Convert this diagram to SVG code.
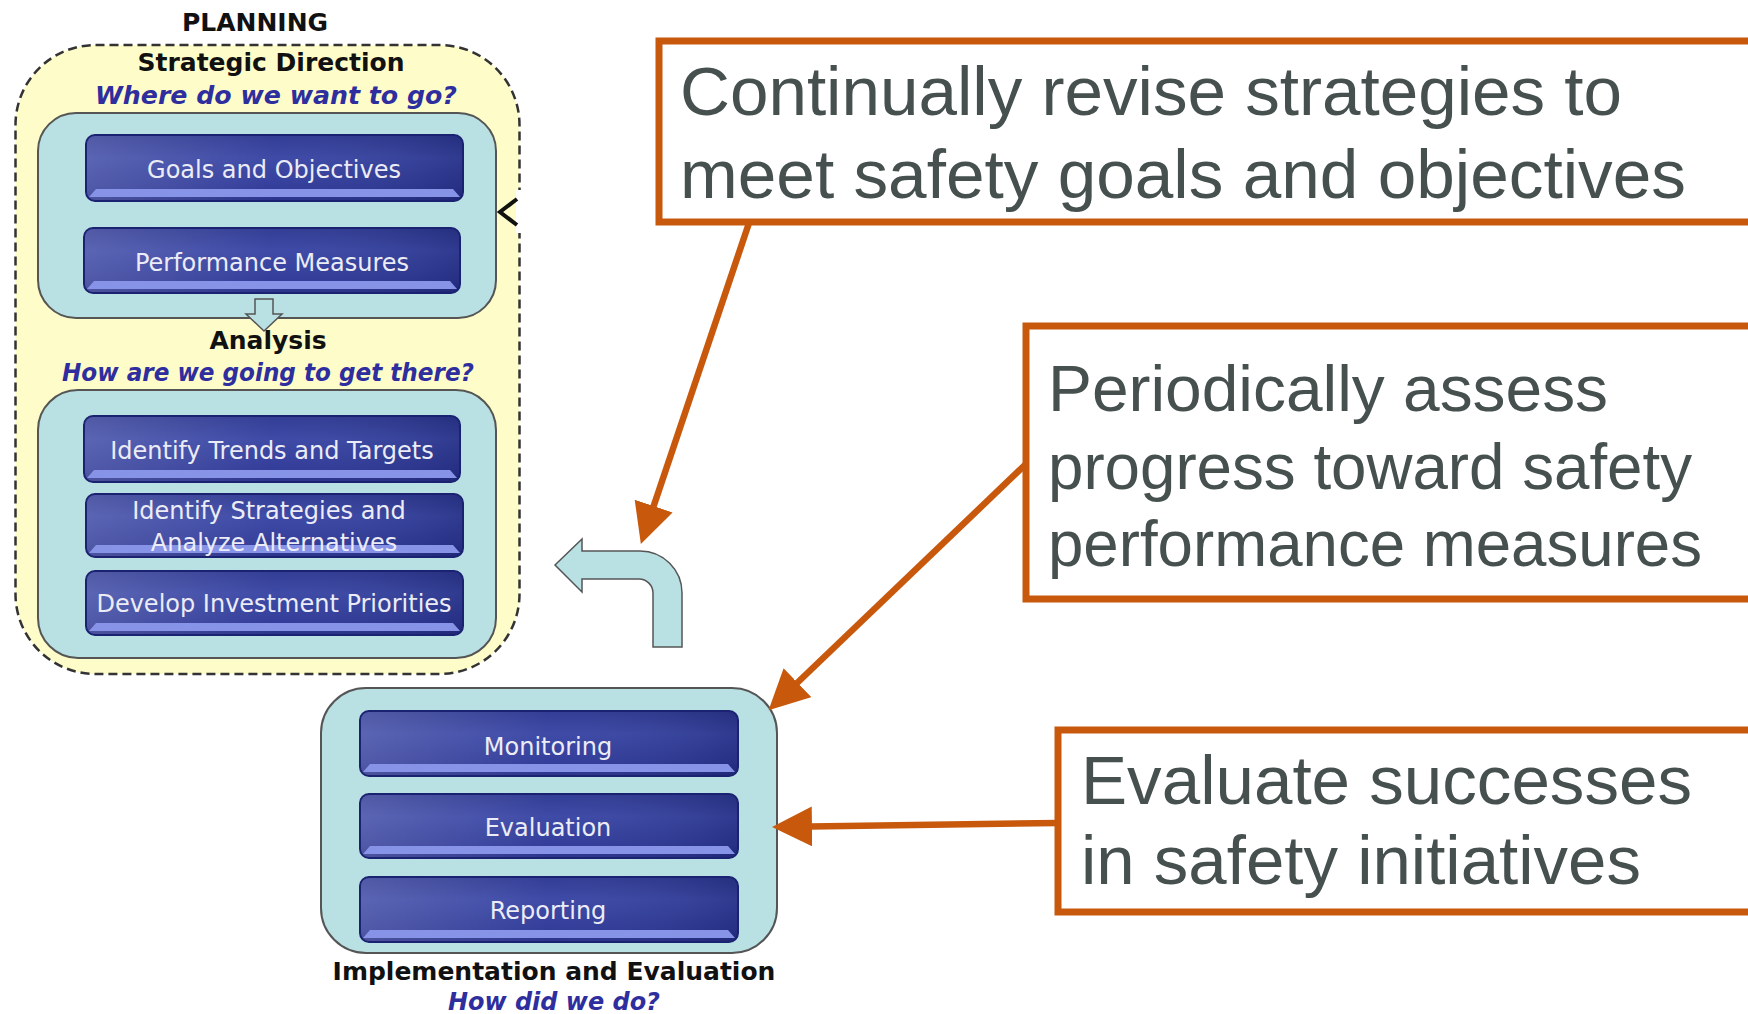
<svg xmlns="http://www.w3.org/2000/svg" width="1748" height="1014" viewBox="0 0 1748 1014">
<defs>
<linearGradient id="btnV" x1="0" y1="0" x2="0" y2="1">
<stop offset="0" stop-color="#2a3590"/>
<stop offset="0.35" stop-color="#3643a3"/>
<stop offset="0.8" stop-color="#2b3696"/>
<stop offset="1" stop-color="#222c85"/>
</linearGradient>
<linearGradient id="btnH" x1="0" y1="0" x2="1" y2="0">
<stop offset="0" stop-color="#ffffff" stop-opacity="0.18"/>
<stop offset="0.5" stop-color="#ffffff" stop-opacity="0.04"/>
<stop offset="1" stop-color="#000000" stop-opacity="0.12"/>
</linearGradient>
<marker id="ah" markerUnits="userSpaceOnUse" markerWidth="42" markerHeight="40" refX="2" refY="20" orient="auto" viewBox="0 0 42 40">
<path d="M0,0 L40,20 L0,40 Z" fill="#c8590c"/>
</marker>
<style>
.outer{fill:#fefdc9;stroke:#333;stroke-width:2.5;stroke-dasharray:9 5}
.teal{fill:#b9e1e3;stroke:#555;stroke-width:2}
.btn{fill:url(#btnV);stroke:#1b2272;stroke-width:2}
.gloss{fill:url(#btnH)}
.bevel{fill:#8693e6}
.bt{font-family:"DejaVu Sans",Verdana,sans-serif;font-size:24px;fill:#ececf6;text-anchor:middle}
.hd{font-family:"DejaVu Sans",Verdana,sans-serif;font-size:25px;font-weight:bold;fill:#111;text-anchor:middle}
.q{font-family:"DejaVu Sans",Verdana,sans-serif;font-size:25px;font-weight:bold;font-style:italic;fill:#2e2e9e;text-anchor:middle}
.ob{fill:#fff;stroke:#c8590c;stroke-width:7}
.ot{font-family:"Liberation Sans",Arial,sans-serif;fill:#46504f}
.con{stroke:#c8590c;stroke-width:6.5;fill:none;marker-end:url(#ah)}
</style>
</defs>
<rect width="1748" height="1014" fill="#fff"/>

<g id="planning">
<rect class="outer" x="15.5" y="45" width="504" height="629" rx="80"/>
<rect x="516" y="190" width="14" height="43" fill="#fff"/>
<polyline points="517,199 500,212 517,225" fill="none" stroke="#111" stroke-width="4"/>
<text class="hd" x="255" y="31">PLANNING</text>
<text class="hd" x="271" y="71">Strategic Direction</text>
<text class="q" x="276" y="104" textLength="362" lengthAdjust="spacingAndGlyphs">Where do we want to go?</text>
</g>

<g id="strategic">
<rect class="teal" x="38" y="113" width="458" height="205" rx="38"/>
</g>

<g id="goals">
<rect class="btn" x="86" y="135" width="377" height="66" rx="9"/>
<rect class="gloss" x="87" y="136" width="375" height="64" rx="8"/>
<path class="bevel" d="M96,189 L453,189 L460,197 L89,197 Z"/>
<text class="bt" x="274" y="178">Goals and Objectives</text>
</g>

<g id="performance">
<rect class="btn" x="84" y="228" width="376" height="65" rx="9"/>
<rect class="gloss" x="85" y="229" width="374" height="63" rx="8"/>
<path class="bevel" d="M94,281 L450,281 L457,289 L87,289 Z"/>
<text class="bt" x="272" y="271">Performance Measures</text>
</g>

<g id="down-arrow">
<path d="M255,299 L273,299 L273,314 L282,314 L264,331 L246,314 L255,314 Z" fill="#b9e1e3" stroke="#555" stroke-width="1.5"/>
</g>

<g id="analysis-label">
<text class="hd" x="268" y="349">Analysis</text>
<text class="q" x="268" y="381" textLength="412" lengthAdjust="spacingAndGlyphs">How are we going to get there?</text>
</g>

<g id="analysis">
<rect class="teal" x="38" y="390" width="458" height="268" rx="40"/>
</g>

<g id="trends">
<rect class="btn" x="84" y="416" width="376" height="66" rx="9"/>
<rect class="gloss" x="85" y="417" width="374" height="64" rx="8"/>
<path class="bevel" d="M94,470 L450,470 L457,478 L87,478 Z"/>
<text class="bt" x="272" y="459">Identify Trends and Targets</text>
</g>

<g id="strategies">
<rect class="btn" x="86" y="494" width="377" height="63" rx="9"/>
<rect class="gloss" x="87" y="495" width="375" height="61" rx="8"/>
<path class="bevel" d="M96,545 L453,545 L460,553 L89,553 Z"/>
<text class="bt" x="269" y="519">Identify Strategies and</text>
<text class="bt" x="274" y="551">Analyze Alternatives</text>
</g>

<g id="develop">
<rect class="btn" x="86" y="571" width="377" height="64" rx="9"/>
<rect class="gloss" x="87" y="572" width="375" height="62" rx="8"/>
<path class="bevel" d="M96,623 L453,623 L460,631 L89,631 Z"/>
<text class="bt" x="274" y="612">Develop Investment Priorities</text>
</g>

<g id="uturn">
<path d="M555,565 L582,539 L582,551 L640,551 A42,42 0 0 1 682,593 L682,647 L653,647 L653,593 A14,14 0 0 0 639,579 L582,579 L582,592 Z" fill="#b9e1e3" stroke="#555" stroke-width="1.5"/>
</g>

<g id="implementation">
<rect class="teal" x="321" y="688" width="456" height="265" rx="45"/>
<text class="hd" x="554" y="980">Implementation and Evaluation</text>
<text class="q" x="554" y="1010" textLength="212" lengthAdjust="spacingAndGlyphs">How did we do?</text>
</g>

<g id="monitoring">
<rect class="btn" x="360" y="711" width="378" height="65" rx="9"/>
<rect class="gloss" x="361" y="712" width="376" height="63" rx="8"/>
<path class="bevel" d="M370,764 L728,764 L735,772 L363,772 Z"/>
<text class="bt" x="548" y="755">Monitoring</text>
</g>

<g id="evaluation">
<rect class="btn" x="360" y="794" width="378" height="64" rx="9"/>
<rect class="gloss" x="361" y="795" width="376" height="62" rx="8"/>
<path class="bevel" d="M370,846 L728,846 L735,854 L363,854 Z"/>
<text class="bt" x="548" y="836">Evaluation</text>
</g>

<g id="reporting">
<rect class="btn" x="360" y="877" width="378" height="65" rx="9"/>
<rect class="gloss" x="361" y="878" width="376" height="63" rx="8"/>
<path class="bevel" d="M370,930 L728,930 L735,938 L363,938 Z"/>
<text class="bt" x="548" y="919">Reporting</text>
</g>

<g id="connectors">
<line class="con" x1="749" y1="223" x2="653" y2="508"/>
<line class="con" x1="1027" y1="463" x2="796" y2="684"/>
<line class="con" x1="1058" y1="823" x2="810" y2="826.5"/>
</g>

<g id="note-revise">
<rect class="ob" x="659" y="41" width="1110" height="181"/>
<text class="ot" font-size="69" x="680" y="115" textLength="942" lengthAdjust="spacingAndGlyphs">Continually revise strategies to</text>
<text class="ot" font-size="69" x="680" y="198" textLength="1006" lengthAdjust="spacingAndGlyphs">meet safety goals and objectives</text>
</g>

<g id="note-assess">
<rect class="ob" x="1026" y="326" width="740" height="273"/>
<text class="ot" font-size="64" x="1048" y="411" textLength="560" lengthAdjust="spacingAndGlyphs">Periodically assess</text>
<text class="ot" font-size="64" x="1048" y="489" textLength="644" lengthAdjust="spacingAndGlyphs">progress toward safety</text>
<text class="ot" font-size="64" x="1048" y="566" textLength="654" lengthAdjust="spacingAndGlyphs">performance measures</text>
</g>

<g id="note-evaluate">
<rect class="ob" x="1058" y="730" width="710" height="182"/>
<text class="ot" font-size="69" x="1081" y="804" textLength="611" lengthAdjust="spacingAndGlyphs">Evaluate successes</text>
<text class="ot" font-size="69" x="1081" y="884">in safety initiatives</text>
</g>
</svg>
